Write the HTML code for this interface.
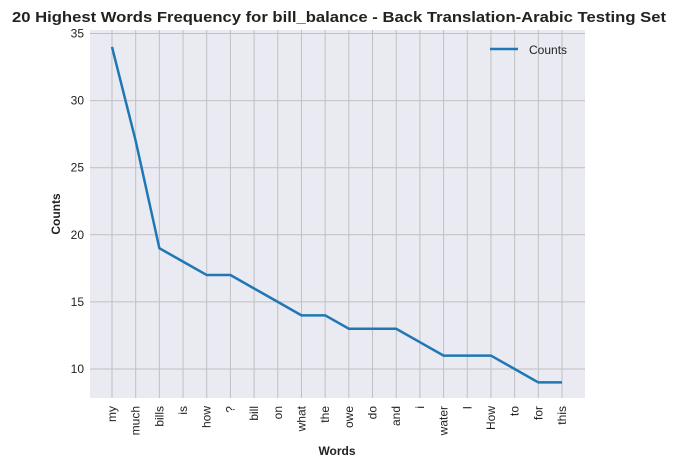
<!DOCTYPE html>
<html><head><meta charset="utf-8"><style>
body{margin:0;background:#fff;font-family:"Liberation Sans",Arial,sans-serif}
</style></head><body>
<svg width="675" height="468" font-family="Liberation Sans, Arial, sans-serif">
<text x="12" y="22" textLength="654" lengthAdjust="spacingAndGlyphs" font-size="15" font-weight="bold" fill="#222">20 Highest Words Frequency for bill_balance - Back Translation-Arabic Testing Set</text>
<rect x="90" y="30" width="495" height="368" fill="#eaeaf2"/>
<g id="grid"></g>
<g id="yt"></g><g id="xt"></g>
<polyline id="line" fill="none" stroke="#1f77b4" stroke-width="2.5"/>
<g>
<line x1="490" y1="49" x2="518" y2="49" stroke="#1f77b4" stroke-width="2.5"/>
<text x="529" y="54" font-size="12" fill="#222">Counts</text>
</g>
<text x="60" y="214" font-size="12" font-weight="bold" fill="#222" text-anchor="middle" transform="rotate(-90 60 214)">Counts</text>
<text x="337" y="455" font-size="12" font-weight="bold" fill="#222" text-anchor="middle">Words</text>
</svg>
<script>
const words=["my","much","bills","is","how","?","bill","on","what","the","owe","do","and","i","water","I","How","to","for","this"];
const counts=[34,27,19,18,17,17,16,15,14,14,13,13,13,12,11,11,11,10,9,9];
const yTicks=[10,15,20,25,30,35];
const ns="http://www.w3.org/2000/svg";
const xs=i=>112+i*(562-112)/(words.length-1);
const ys=v=>369-(v-10)*(369-33.5)/25;
const grid=document.getElementById('grid'),yt=document.getElementById('yt'),xt=document.getElementById('xt');
function mk(t,a,p){const e=document.createElementNS(ns,t);for(const k in a)e.setAttribute(k,a[k]);p.appendChild(e);return e;}
yTicks.forEach(v=>{
 const l=mk('line',{x1:90,x2:585,y1:ys(v),y2:ys(v),stroke:'#c0c0c0','stroke-width':1},grid);
 
 
 const t=mk('text',{x:84,y:ys(v)+4,'text-anchor':'end','font-size':12,fill:'#222'},yt);t.textContent=v;
 
 
});
words.forEach((w,i)=>{
 const l=mk('line',{x1:xs(i),x2:xs(i),y1:30,y2:398,stroke:'#c0c0c0','stroke-width':1},grid);
 
 
 const t=mk('text',{x:0,y:0,'text-anchor':'end','font-size':12,fill:'#222',transform:`translate(${xs(i)+4},406) rotate(-90)`},xt);t.textContent=w;
 
 
});
document.getElementById('line').setAttribute('points',counts.map((c,i)=>xs(i)+','+ys(c)).join(' '));
</script>
</body></html>
